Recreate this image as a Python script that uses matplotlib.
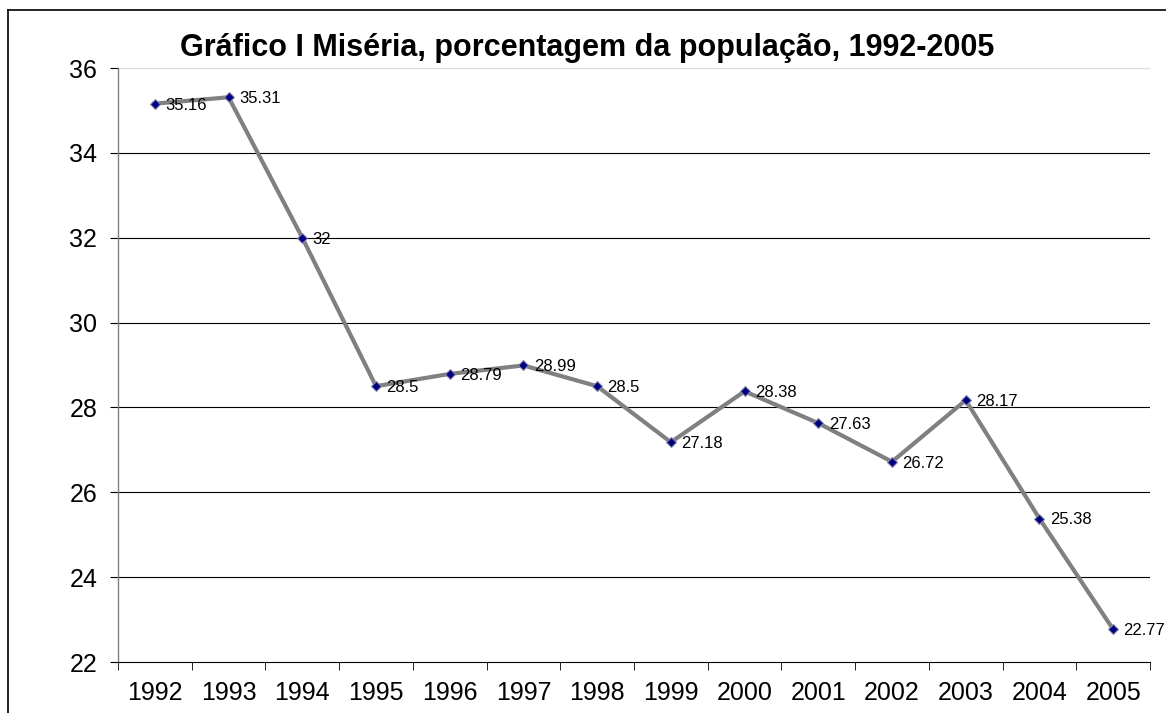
import matplotlib

matplotlib.use("Agg")
import matplotlib.pyplot as plt
from matplotlib.lines import Line2D

years = ["1992", "1993", "1994", "1995", "1996", "1997", "1998",
         "1999", "2000", "2001", "2002", "2003", "2004", "2005"]
misery = [35.16, 35.31, 32, 28.5, 28.79, 28.99, 28.5,
          27.18, 28.38, 27.63, 26.72, 28.17, 25.38, 22.77]
value_labels = ["35.16", "35.31", "32", "28.5", "28.79", "28.99", "28.5",
                "27.18", "28.38", "27.63", "26.72", "28.17", "25.38", "22.77"]
y_ticks = [22, 24, 26, 28, 30, 32, 34, 36]
title = "Gráfico I Miséria, porcentagem da população, 1992-2005"

plt.rcParams.update({"font.family": ["Liberation Sans", "DejaVu Sans"]})

fig = plt.figure(figsize=(11.66, 7.13), dpi=100)
ax = fig.add_axes([118 / 1166, 1 - 662 / 713, (1150 - 118) / 1166, (662 - 68) / 713])

x = list(range(len(years)))
ax.plot(x, misery, color="#808080", lw=3.0, zorder=2)
ax.plot(x, misery, ls="none", marker="D", ms=5.5, mfc="#000080", mec="#8888a8",
        mew=0.8, zorder=3)
for xi, v, s in zip(x, misery, value_labels):
    ax.annotate(s, (xi, v), xytext=(7.5, -1), textcoords="offset points",
                ha="left", va="center", fontsize=12, color="black", zorder=4,
                annotation_clip=False)

ax.set_xlim(-0.5, len(years) - 0.5)
ax.set_ylim(22, 36)
ax.set_yticks(y_ticks)
ax.set_yticklabels([str(t) for t in y_ticks], fontsize=18)
ax.set_xticks(x)
ax.set_xticklabels(years, fontsize=18)
ax.tick_params(axis="x", length=0, pad=14)
ax.tick_params(axis="y", length=6, direction="out", color="black", pad=9)
ax.set_xticks([i - 0.5 for i in range(len(years) + 1)], minor=True)
ax.tick_params(axis="x", which="minor", length=6, direction="out", color="black")

for t in y_ticks[1:-1]:
    ax.axhline(t, color="black", lw=0.8, zorder=1)
ax.axhline(36, color="#dddddd", lw=1.0, zorder=1)

for side in ["top", "right"]:
    ax.spines[side].set_visible(False)
ax.spines["left"].set_color("#808080")
ax.spines["left"].set_linewidth(1.0)
ax.spines["bottom"].set_color("black")
ax.spines["bottom"].set_linewidth(0.8)

fig.text(587 / 1166, 1 - 48 / 713, title, ha="center", va="center",
         fontsize=22, fontweight="bold")

# outer chart border (left and top edges visible in the crop)
fig.add_artist(Line2D([8 / 1166, 8 / 1166], [0, 1 - 10 / 713], color="black", lw=1.2))
fig.add_artist(Line2D([8 / 1166, 1], [1 - 10 / 713, 1 - 10 / 713], color="black", lw=1.2))

fig.savefig("out.png", dpi=100)
